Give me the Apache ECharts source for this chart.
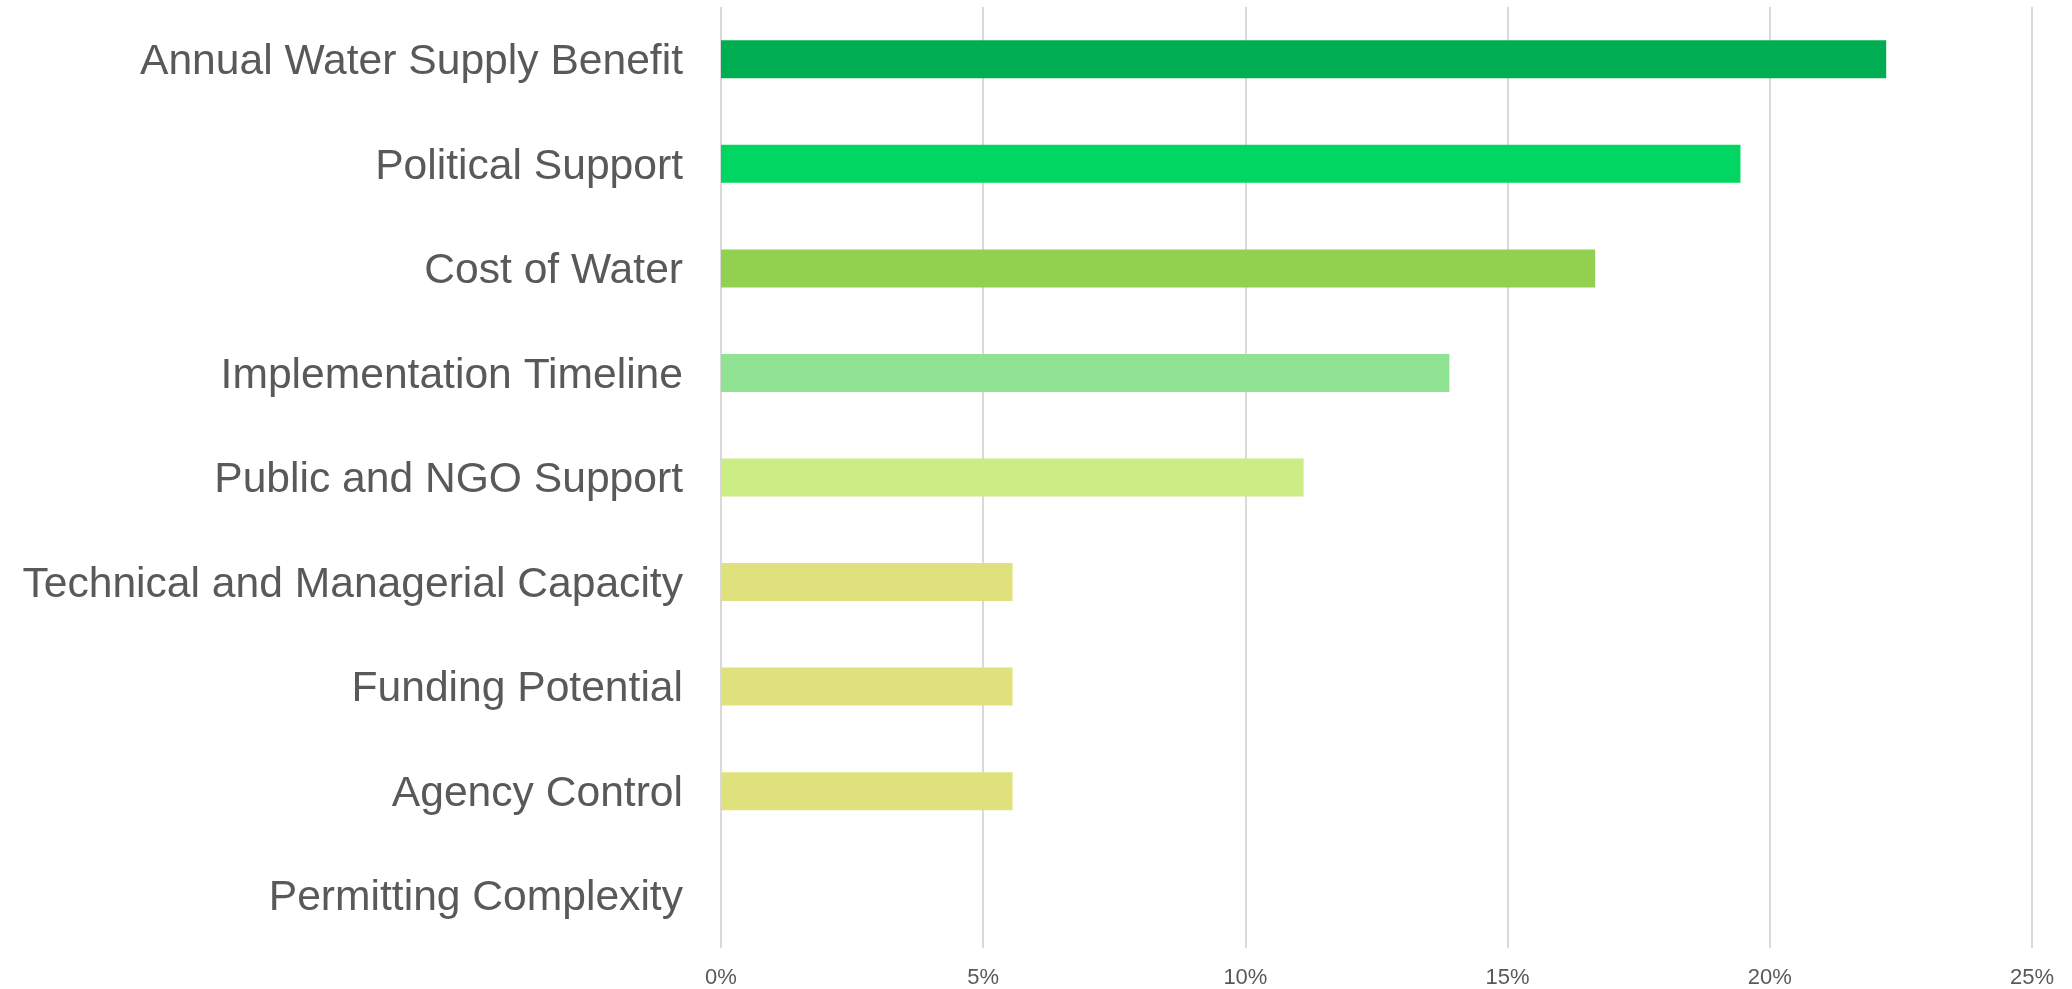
<!DOCTYPE html>
<html>
<head>
<meta charset="utf-8">
<script src="https://cdn.jsdelivr.net/npm/echarts@6/dist/echarts.min.js"></script>
<style>
html,body{margin:0;padding:0;background:#fff;}
#chart{width:2072px;height:989px;}
</style>
</head>
<body>
<div id="chart"></div>
<script>
const categories = [
  "Annual Water Supply Benefit",
  "Political Support",
  "Cost of Water",
  "Implementation Timeline",
  "Public and NGO Support",
  "Technical and Managerial Capacity",
  "Funding Potential",
  "Agency Control",
  "Permitting Complexity"
];
const values = [22.22, 19.44, 16.67, 13.89, 11.11, 5.56, 5.56, 5.56, 0];
const barColors = ["#00AD50", "#00D661", "#92D050", "#8FE393", "#CCEC86", "#DFE27C", "#DFE27C", "#DFE27C", "#DFE27C"];
const xTicks = [0, 5, 10, 15, 20, 25];

const FONT = '"Liberation Sans", Arial, sans-serif';
const chart = echarts.init(document.getElementById('chart'), null, {renderer: 'canvas'});
chart.setOption({
  animation: false,
  backgroundColor: '#ffffff',
  grid: {left: 721, right: 40, top: 7, bottom: 41, containLabel: false},
  xAxis: {
    type: 'value',
    min: xTicks[0],
    max: xTicks[xTicks.length - 1],
    interval: xTicks[1] - xTicks[0],
    axisLine: {show: false},
    axisTick: {show: false},
    splitLine: {show: true, lineStyle: {color: '#d9d9d9', width: 2}},
    axisLabel: {
      formatter: v => v + '%',
      color: '#595959',
      fontFamily: FONT,
      fontSize: 22,
      margin: 19
    }
  },
  yAxis: {
    type: 'category',
    inverse: true,
    data: categories,
    axisLine: {show: false},
    axisTick: {show: false},
    splitLine: {show: false},
    axisLabel: {
      color: '#595959',
      fontFamily: FONT,
      fontSize: 42.6,
      margin: 38,
      formatter: v => '{a|' + v + '}',
      rich: {
        a: {
          color: '#595959',
          fontFamily: FONT,
          fontSize: 42.6,
          padding: [6, 0, 0, 0]
        }
      }
    }
  },
  series: [{
    type: 'bar',
    data: values.map((v, i) => ({value: v, itemStyle: {color: barColors[i]}})),
    barWidth: 38
  }]
});
</script>
</body>
</html>
